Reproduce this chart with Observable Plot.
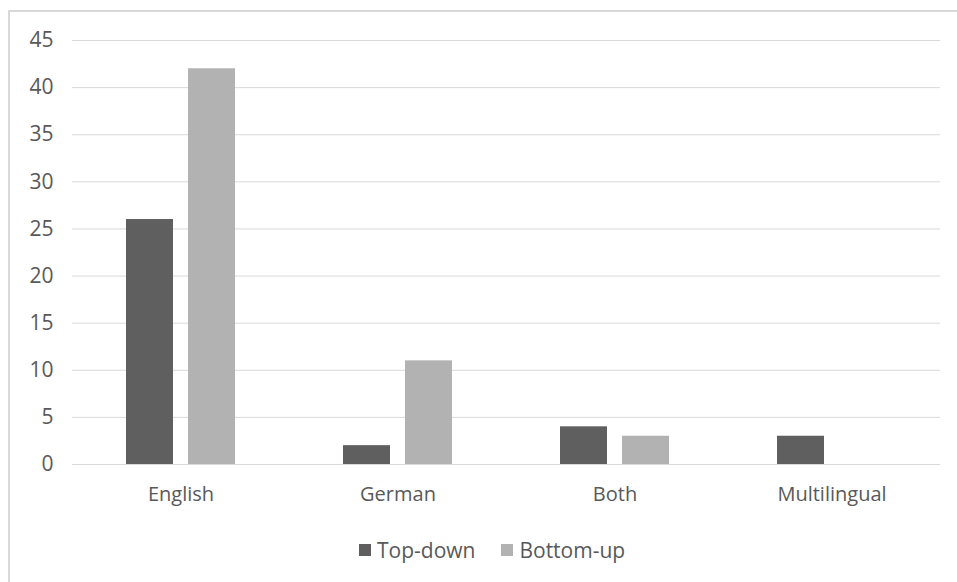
<!DOCTYPE html>
<html>
<head>
<meta charset="utf-8">
<script src="https://cdn.jsdelivr.net/npm/d3@7"></script>
<script src="https://cdn.jsdelivr.net/npm/@observablehq/plot@0.6"></script>
<style>
  html, body { margin: 0; padding: 0; background: #fff; }
  #wrap { position: relative; width: 957px; height: 582px; overflow: hidden; font-family: "Open Sans", sans-serif; color: #595959; }
  #frame { position: absolute; left: 8px; top: 10px; width: 1000px; height: 700px; border-top: 2px solid #d9d9d9; border-left: 2px solid #d9d9d9; box-sizing: border-box; }
  #chart { position: absolute; left: 0; top: 0; }
  #legend { position: absolute; left: 359px; top: 536px; display: flex; align-items: center; font-size: 21px; color: #595959; white-space: nowrap; }
  .item { display: flex; align-items: center; margin-right: 26px; }
  .sw { width: 12px; height: 12px; margin-right: 6px; }
</style>
</head>
<body>
<div id="wrap">
  <div id="frame"></div>
  <div id="chart"></div>
  <div id="legend"></div>
</div>
<script>
const categories = ["English", "German", "Both", "Multilingual"];
const seriesNames = ["Top-down", "Bottom-up"];
const topDown = [26, 2, 4, 3];
const bottomUp = [42, 11, 3, 0];
const yTicks = [0, 5, 10, 15, 20, 25, 30, 35, 40, 45];
const colors = ["#5f5f5f", "#b2b2b2"];

const data = [];
categories.forEach((c, i) => {
  data.push({category: c, series: seriesNames[0], value: topDown[i]});
  data.push({category: c, series: seriesNames[1], value: bottomUp[i]});
});

const chart = Plot.plot({
  width: 957,
  height: 525,
  marginTop: 40,
  marginBottom: 61,
  marginLeft: 71,
  marginRight: 17,
  style: {fontFamily: "'Open Sans', sans-serif", fontSize: "20px", color: "#595959", background: "transparent"},
  fx: {domain: categories, padding: 0, label: null},
  x: {domain: seriesNames, paddingInner: 0.238, paddingOuter: 0.843, axis: null},
  y: {domain: [0, 45], axis: null},
  color: {domain: seriesNames, range: colors},
  marks: [
    Plot.ruleY(yTicks, {stroke: "#d9d9d9", strokeWidth: 1}),
    Plot.barY(data, {fx: "category", x: "series", y: "value", fill: "series"}),
    Plot.axisY(yTicks, {anchor: "left", tickSize: 0, tickPadding: 19, label: null, fontSize: 21}),
    Plot.axisFx({anchor: "bottom", tickSize: 0, tickPadding: 22, label: null, fontSize: 20})
  ]
});
document.getElementById("chart").appendChild(chart);

const legend = document.getElementById("legend");
seriesNames.forEach((s, i) => {
  const item = document.createElement("div");
  item.className = "item";
  const sw = document.createElement("div");
  sw.className = "sw";
  sw.style.background = colors[i];
  const label = document.createElement("span");
  label.textContent = s;
  item.appendChild(sw);
  item.appendChild(label);
  legend.appendChild(item);
});
</script>
</body>
</html>
